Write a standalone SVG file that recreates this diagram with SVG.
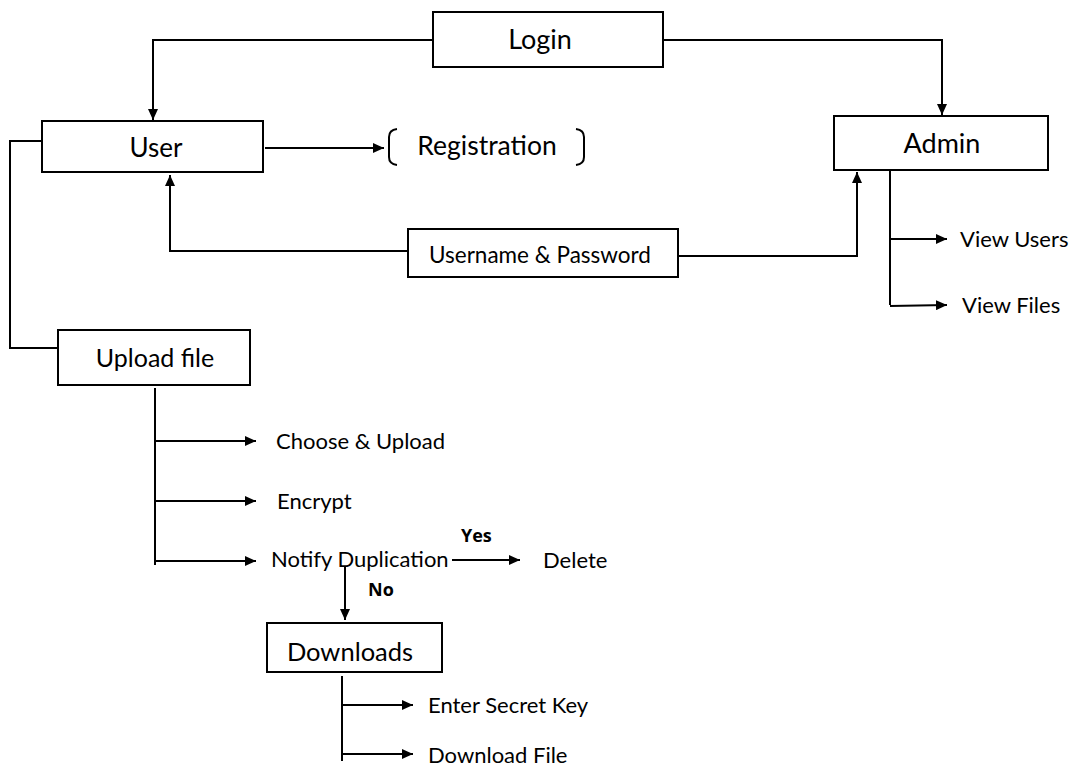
<svg xmlns="http://www.w3.org/2000/svg" width="1072" height="767" viewBox="0 0 1072 767">
<defs>
<marker id="ah" markerUnits="userSpaceOnUse" markerWidth="12" markerHeight="10" refX="11" refY="5" orient="auto">
<path d="M0,0 L11,5 L0,10 Z" fill="#000"/>
</marker>
<style>
.box{fill:#fff;stroke:#000;stroke-width:2}
.ln{fill:none;stroke:#000;stroke-width:2}
.ar{fill:none;stroke:#000;stroke-width:2;marker-end:url(#ah)}
.t{font-family:Lato,"Open Sans",sans-serif;fill:#000}
.big{font-size:26px;text-anchor:middle}
.mid{font-size:22.5px;text-anchor:middle}
.lab{font-size:22px}
.b{font-family:"Open Sans",Lato,sans-serif;font-size:18px;font-weight:bold;fill:#000}
</style>
</defs>
<rect width="1072" height="767" fill="#fff"/>
<g id="connectors">
<polyline class="ar" points="433,40 153,40 153,120"/>
<polyline class="ar" points="663,40 942,40 942,115"/>
<line class="ar" x1="265" y1="148" x2="384" y2="148"/>
<polyline class="ar" points="408,251 170,251 170,175"/>
<polyline class="ar" points="678,256 857,256 857,172"/>
<polyline class="ln" points="890,170 890,305"/>
<line class="ar" x1="890" y1="239" x2="947" y2="239"/>
<line class="ar" x1="890" y1="306" x2="947" y2="305"/>
<polyline class="ln" points="42,141 10,141 10,348 58,348"/>
<line class="ln" x1="155" y1="388" x2="155" y2="565"/>
<line class="ar" x1="155" y1="441" x2="256" y2="441"/>
<line class="ar" x1="156" y1="501" x2="256" y2="501"/>
<line class="ar" x1="155" y1="561" x2="256" y2="561"/>
<line class="ar" x1="452" y1="560" x2="520" y2="560"/>
<line class="ar" x1="345" y1="567" x2="345" y2="620"/>
<line class="ln" x1="342" y1="676" x2="342" y2="761"/>
<line class="ar" x1="342" y1="705" x2="413" y2="705"/>
<line class="ar" x1="342" y1="754" x2="413" y2="754"/>
</g>
<g id="login">
<rect class="box" x="433" y="12" width="230" height="55"/>
<text class="t big" x="540" y="49" style="font-size:27px">Login</text>
</g>
<g id="user">
<rect class="box" x="42" y="121" width="221" height="51"/>
<text class="t big" x="156" y="157">User</text>
</g>
<g id="registration">
<path class="ln" d="M397,129 Q389,130 389,137 L389,157 Q389,164 397,165"/>
<path class="ln" d="M576,129 Q584,130 584,137 L584,157 Q584,164 576,165"/>
<text class="t big" x="487" y="155" style="font-size:26.5px">Registration</text>
</g>
<g id="admin">
<rect class="box" x="834" y="116" width="214" height="54"/>
<text class="t big" x="942" y="153" style="font-size:27px">Admin</text>
</g>
<g id="username-password">
<rect class="box" x="408" y="229" width="270" height="48"/>
<text class="t mid" x="540" y="263">Username &amp; Password</text>
</g>
<g id="view-users"><text class="t lab" x="960" y="247">View Users</text></g>
<g id="view-files"><text class="t lab" x="962" y="313">View Files</text></g>
<g id="upload-file">
<rect class="box" x="58" y="330" width="192" height="55"/>
<text class="t big" x="155" y="367" style="font-size:25px">Upload file</text>
</g>
<g id="choose-upload"><text class="t lab" x="276" y="449">Choose &amp; Upload</text></g>
<g id="encrypt"><text class="t lab" x="277" y="509">Encrypt</text></g>
<g id="notify-duplication"><text class="t lab" x="271" y="567">Notify Duplication</text></g>
<g id="delete"><text class="t lab" x="543" y="568">Delete</text></g>
<text class="b" x="461" y="542">Yes</text>
<text class="b" x="368" y="596">No</text>
<g id="downloads">
<rect class="box" x="267" y="623" width="175" height="49"/>
<text class="t big" x="350" y="661" style="font-size:25.5px">Downloads</text>
</g>
<g id="enter-secret-key"><text class="t lab" x="428" y="713">Enter Secret Key</text></g>
<g id="download-file"><text class="t lab" x="428" y="763">Download File</text></g>
</svg>
